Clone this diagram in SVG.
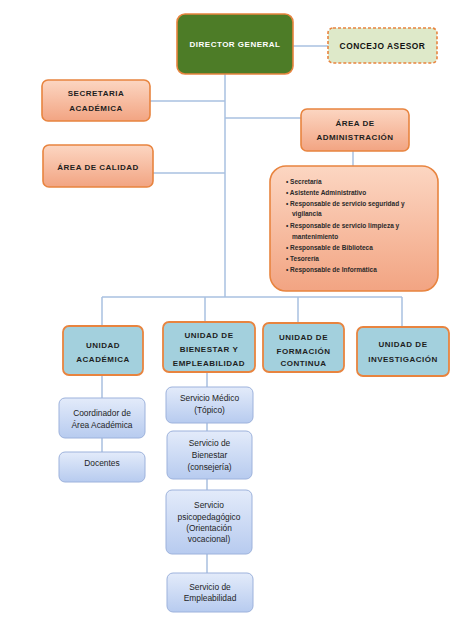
<svg xmlns="http://www.w3.org/2000/svg" width="464" height="633" viewBox="0 0 464 633">
<defs>
<linearGradient id="gOr" x1="0" y1="0" x2="0" y2="1"><stop offset="0" stop-color="#fcd6c2"/><stop offset="1" stop-color="#f2a482"/></linearGradient>
<linearGradient id="gBl" x1="0" y1="0" x2="0" y2="1"><stop offset="0" stop-color="#e3ebfa"/><stop offset="1" stop-color="#b7cbef"/></linearGradient>
</defs>
<style>
.or{fill:url(#gOr);stroke:#e8843f;stroke-width:1.6}
.un{fill:#a3d0dd;stroke:#e8843f;stroke-width:1.8}
.sv{fill:url(#gBl);stroke:#9db2dc;stroke-width:1}
.ln{stroke:#a9c0e0;stroke-width:1.5;fill:none}
.h{font-family:"Liberation Sans",Arial,sans-serif;font-weight:bold;font-size:8px;letter-spacing:0.5px;fill:#1e1e1e;text-anchor:middle}
.w{fill:#ffffff}
.s{font-family:"Liberation Sans",Arial,sans-serif;font-size:8.4px;fill:#1e1e1e;text-anchor:middle}
.l{font-family:"Liberation Sans",Arial,sans-serif;font-weight:bold;font-size:6.5px;fill:#2a2a2a}
</style>
<rect width="464" height="633" fill="#ffffff"/>
<g id="connectors">
<path class="ln" d="M293 46H328"/>
<path class="ln" d="M225 74V297"/>
<path class="ln" d="M150 101H225"/>
<path class="ln" d="M153 173H225"/>
<path class="ln" d="M225 118H301"/>
<path class="ln" d="M353 151V166"/>
<path class="ln" d="M102 297H402"/>
<path class="ln" d="M102 297V326"/>
<path class="ln" d="M205 297V322"/>
<path class="ln" d="M298 297V323"/>
<path class="ln" d="M402 297V327"/>
<path class="ln" d="M102 375V398M102 438V452"/>
<path class="ln" d="M207 372V387M207 423V431M207 479V490M207 554V573"/>
</g>
<g id="director">
<rect x="177" y="14" width="116" height="60" rx="8" fill="#4d7c27" stroke="#e8843f" stroke-width="1.6"/>
<text class="h w" x="235" y="47">DIRECTOR GENERAL</text>
</g>
<g id="concejo">
<rect x="328" y="28" width="109" height="35" rx="5" fill="#dee9c9" stroke="#e8843f" stroke-width="1.6" stroke-dasharray="3,2"/>
<text class="h" x="382.5" y="49" style="font-size:8.4px;fill:#111">CONCEJO ASESOR</text>
</g>
<g id="secretaria">
<rect class="or" x="42" y="80" width="108" height="41" rx="6"/>
<text class="h" x="96" y="96">SECRETARIA</text>
<text class="h" x="96" y="111">ACADÉMICA</text>
</g>
<g id="calidad">
<rect class="or" x="43" y="145" width="110" height="42" rx="6"/>
<text class="h" x="98" y="169.5">ÁREA DE CALIDAD</text>
</g>
<g id="administracion">
<rect class="or" x="301" y="109" width="108" height="42" rx="6"/>
<text class="h" x="355" y="126">ÁREA DE</text>
<text class="h" x="355" y="140">ADMINISTRACIÓN</text>
</g>
<g id="admin-lista">
<rect class="or" x="270" y="166" width="168" height="125" rx="16"/>
<text class="l" x="286" y="183.5">•  Secretaría</text>
<text class="l" x="286" y="194.5">•  Asistente Administrativo</text>
<text class="l" x="286" y="205.5">•  Responsable de servicio seguridad y</text>
<text class="l" x="292" y="216">vigilancia</text>
<text class="l" x="286" y="227.5">•  Responsable de servicio limpieza y</text>
<text class="l" x="292" y="238.5">mantenimiento</text>
<text class="l" x="286" y="249.5">•  Responsable de Biblioteca</text>
<text class="l" x="286" y="260.5">•  Tesorería</text>
<text class="l" x="286" y="271.5">•  Responsable de Informática</text>
</g>
<g id="u-academica">
<rect class="un" x="63" y="326" width="80" height="49" rx="6"/>
<text class="h" x="103" y="347.5">UNIDAD</text>
<text class="h" x="103" y="362">ACADÉMICA</text>
</g>
<g id="u-bienestar">
<rect class="un" x="163" y="322" width="92" height="50" rx="6"/>
<text class="h" x="209" y="338">UNIDAD DE</text>
<text class="h" x="209" y="352">BIENESTAR Y</text>
<text class="h" x="209" y="365.5">EMPLEABILIDAD</text>
</g>
<g id="u-formacion">
<rect class="un" x="263" y="323" width="81" height="49" rx="6"/>
<text class="h" x="303.5" y="339.5">UNIDAD DE</text>
<text class="h" x="303.5" y="353.5">FORMACIÓN</text>
<text class="h" x="303.5" y="366">CONTINUA</text>
</g>
<g id="u-investigacion">
<rect class="un" x="357" y="327" width="92" height="49" rx="6"/>
<text class="h" x="403" y="347">UNIDAD DE</text>
<text class="h" x="403" y="362">INVESTIGACIÓN</text>
</g>
<g id="coordinador">
<rect class="sv" x="59" y="398" width="86" height="40" rx="6"/>
<text class="s" x="102" y="416">Coordinador de</text>
<text class="s" x="102" y="428">Área Académica</text>
</g>
<g id="docentes">
<rect class="sv" x="59" y="452" width="86" height="30" rx="6"/>
<text class="s" x="102" y="466">Docentes</text>
</g>
<g id="medico">
<rect class="sv" x="166" y="387" width="87" height="36" rx="6"/>
<text class="s" x="209.5" y="401">Servicio Médico</text>
<text class="s" x="209.5" y="413">(Tópico)</text>
</g>
<g id="serv-bienestar">
<rect class="sv" x="167" y="431" width="85" height="48" rx="6"/>
<text class="s" x="209.5" y="446">Servicio de</text>
<text class="s" x="209.5" y="458">Bienestar</text>
<text class="s" x="209.5" y="470">(consejería)</text>
</g>
<g id="psicopedagogico">
<rect class="sv" x="166" y="490" width="86" height="64" rx="6"/>
<text class="s" x="209" y="508">Servicio</text>
<text class="s" x="209" y="520">psicopedagógico</text>
<text class="s" x="209" y="531">(Orientación</text>
<text class="s" x="209" y="542">vocacional)</text>
</g>
<g id="empleabilidad">
<rect class="sv" x="167" y="573" width="86" height="39" rx="6"/>
<text class="s" x="210" y="590">Servicio de</text>
<text class="s" x="210" y="601">Empleabilidad</text>
</g>
</svg>
